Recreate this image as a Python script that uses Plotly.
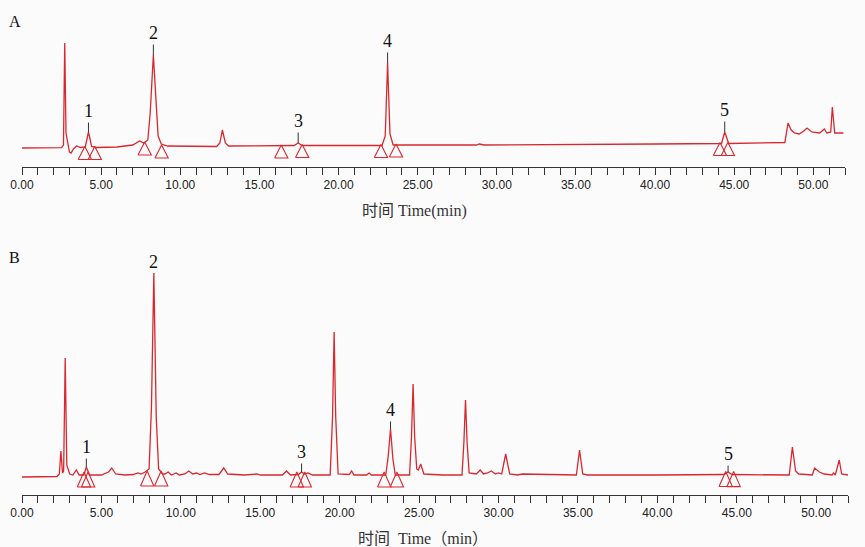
import numpy as np
import plotly.graph_objects as go

# ---------------- Chromatogram A (mixed standards) ----------------
time_a = [0.0, 2.5, 2.62, 2.7, 2.78, 2.9, 3.0, 3.1, 3.25, 3.45, 3.7, 4.0,
          4.2, 4.4, 4.7, 6.0, 7.0, 7.43, 7.7, 7.95, 8.1, 8.3, 8.45, 8.6,
          8.8, 9.2, 12.3, 12.5, 12.66, 12.85, 13.05, 16.5, 17.2, 17.45, 17.7,
          22.75, 22.95, 23.1, 23.25, 23.45, 28.7, 28.9, 29.2, 40.0, 44.2,
          44.4, 44.65, 48.2, 48.4, 48.6, 48.8, 49.1, 49.4, 49.6, 49.9,
          50.4, 50.7, 50.85, 51.1, 51.2, 51.35, 51.9]
signal_a = [0.0, 0.3, 3, 105, 15, 2, -4, -5, -1, 2, 0.5, 1,
            16, 1.5, 0.5, 1, 3, 7, 5, 8, 35, 93, 45, 12,
            4, 2, 1.5, 5, 18, 5, 2, 2, 2.5, 5, 2.5,
            2.5, 12, 85, 14, 3, 3, 4, 3, 4, 4.5,
            16, 4.5, 5.5, 25, 18, 15, 14, 17, 20, 16,
            15, 19, 15, 16, 41, 15, 15]

# ---------------- Chromatogram B (sample) ----------------
time_b = [0.0, 2.2, 2.35, 2.45, 2.55, 2.62, 2.72, 2.82, 3.0, 3.2, 3.42, 3.6,
          3.9, 4.05, 4.25, 5.0, 5.45, 5.65, 5.9, 6.5, 7.0, 7.3, 7.5, 7.75,
          8.0, 8.15, 8.3, 8.45, 8.6, 8.85, 9.0, 9.2, 9.4, 9.7, 9.9, 10.25,
          10.5, 10.75, 11.0, 11.2, 11.5, 11.8, 12.4, 12.7, 12.95, 14.0, 14.8, 15.0,
          16.4, 16.65, 16.9, 17.4, 17.6, 17.8, 18.0, 18.3, 19.4, 19.55, 19.65, 19.75,
          19.9, 20.6, 20.75, 20.9, 21.7, 21.85, 22.0, 22.9, 23.05, 23.2, 23.35, 23.5,
          24.4, 24.52, 24.62, 24.72, 24.85, 24.95, 25.1, 25.3, 26.5, 27.7, 27.82, 27.92,
          28.02, 28.15, 28.6, 28.85, 29.05, 29.3, 29.55, 29.8, 30.0, 30.2, 30.45, 30.7,
          31.2, 31.5, 34.9, 35.1, 35.3, 35.6, 40.0, 44.2, 44.45, 44.7, 48.3, 48.5,
          48.7, 48.9, 49.75, 49.9, 50.2, 50.5, 51.0, 51.08, 51.2, 51.45, 51.6, 52.0]
signal_b = [0.0, 0.5, 3, 26, 4, 6, 119, 12, 3, 2, 7, 2,
            2, 10, 2, 2, 5, 9, 3, 2, 2.5, 4, 3, 5,
            8, 70, 204, 60, 8, 3, 3, 5, 2, 4, 2, 3,
            6, 3, 4, 2.5, 4, 2.5, 2.5, 9, 3, 2, 3, 2,
            2, 6, 2, 2.5, 5, 3, 4, 2, 2, 60, 145, 60,
            3, 2.5, 6, 2, 2, 4, 2, 2, 20, 48, 18, 2,
            2, 40, 93, 40, 8, 7, 13, 3, 2, 2, 35, 77,
            35, 4, 3, 7, 3, 4, 6, 3, 4, 3, 23, 3,
            2, 3, 2, 27, 3, 2, 2, 2.5, 5, 2.5, 2, 30,
            6, 3, 2, 9, 5, 3, 2, 4, 2, 17, 3, 2]

# Identified peaks 1-5 (retention time, min)
peak_ids = ["1", "2", "3", "4", "5"]
peak_rt_a = [4.2, 8.3, 17.45, 23.1, 44.4]
peak_rt_b = [4.05, 8.3, 17.6, 23.2, 44.45]

# Integration start / end markers (min)
marks_a = [3.97, 4.6, 7.75, 8.82, 16.38, 17.7, 22.68, 23.63, 44.1, 44.6]
marks_b = [3.9, 4.16, 7.88, 8.76, 17.3, 17.8, 22.8, 23.6, 44.3, 44.8]

# x tick labels
tick_vals = [0, 5, 10, 15, 20, 25, 30, 35, 40, 45, 50]
tick_text = ["0.00", "5.00", "10.00", "15.00", "20.00", "25.00",
             "30.00", "35.00", "40.00", "45.00", "50.00"]

W, H = 865, 547
RED = "#d8282f"
BG = "#fbfbfb"
SERIF = "Times New Roman, Liberation Serif, Noto Sans CJK SC, serif"
SANS = "Liberation Sans Narrow, Arial Narrow, Liberation Sans, Arial, sans-serif"

# pixel lift of each peak number above its apex
label_lift_a = [21, 22, 22, 22, 22]
label_lift_b = [20, 11, 20, 19, 18]

fig = go.Figure()


def triangle_path(times, sig_t, sig_y, lift, height, half_w):
    """Open triangles sitting under the baseline at each integration mark."""
    t_arr = np.asarray(sig_t, float)
    y_arr = np.asarray(sig_y, float)
    xs, ys = [], []
    for t in times:
        grid = np.linspace(t - 0.5, t + 0.5, 101)
        base_level = float(np.interp(grid, t_arr, y_arr).min())
        apex = base_level + lift
        bottom = apex - height
        xs += [t - half_w, t, t + half_w, t - half_w, None]
        ys += [bottom, apex, bottom, bottom, None]
    return xs, ys


# Panel A traces
fig.add_trace(go.Scatter(x=time_a, y=signal_a, mode="lines",
                         line=dict(color=RED, width=1.3),
                         xaxis="x", yaxis="y", hoverinfo="skip"))
tx, ty = triangle_path(marks_a, time_a, signal_a, 1, 13, 0.42)
fig.add_trace(go.Scatter(x=tx, y=ty, mode="lines",
                         line=dict(color=RED, width=1.1),
                         xaxis="x", yaxis="y", hoverinfo="skip"))

# Panel B traces
fig.add_trace(go.Scatter(x=time_b, y=signal_b, mode="lines",
                         line=dict(color=RED, width=1.3),
                         xaxis="x2", yaxis="y2", hoverinfo="skip"))
tx, ty = triangle_path(marks_b, time_b, signal_b, 3, 15, 0.42)
fig.add_trace(go.Scatter(x=tx, y=ty, mode="lines",
                         line=dict(color=RED, width=1.1),
                         xaxis="x2", yaxis="y2", hoverinfo="skip"))

annotations = []
for ids, rts, lifts, ts, ys, xr, yr in [
    (peak_ids, peak_rt_a, label_lift_a, time_a, signal_a, "x", "y"),
    (peak_ids, peak_rt_b, label_lift_b, time_b, signal_b, "x2", "y2"),
]:
    for pid, rt, lift in zip(ids, rts, lifts):
        apex = float(np.interp(rt, ts, ys))
        annotations.append(dict(
            x=rt, y=apex, xref=xr, yref=yr, text=pid,
            showarrow=True, arrowhead=0, arrowwidth=1, arrowcolor="#333333",
            ax=0, ay=-lift, font=dict(family=SERIF, size=18, color="#111111"),
        ))


def paper_text(px, py, text, size, color):
    return dict(x=px / W, y=1 - py / H, xref="paper", yref="paper",
                xanchor="center", yanchor="middle", text=text,
                showarrow=False, font=dict(family=SERIF, size=size, color=color))


# Panel letters and axis titles
annotations += [
    paper_text(15, 22, "A", 16, "#111111"),
    paper_text(15, 257, "B", 16, "#111111"),
    paper_text(414, 211, "时间 Time(min)", 16, "#333333"),
    paper_text(423, 538, "时间  Time（min）", 16, "#333333"),
]


def xaxis_style(dom):
    return dict(
        domain=dom, range=[0, 52], showgrid=False, zeroline=False,
        automargin=False,
        showline=True, linecolor="#333333", linewidth=1,
        ticks="outside", ticklen=7, tickwidth=1, tickcolor="#333333",
        tickvals=tick_vals, ticktext=tick_text,
        tickfont=dict(family=SANS, size=12, color="#222222"),
        minor=dict(dtick=1, tick0=0, ticks="outside", ticklen=7,
                   tickwidth=1, tickcolor="#333333", showgrid=False),
        fixedrange=True,
    )


fig.update_layout(
    template="none",
    width=W, height=H,
    margin=dict(l=0, r=0, t=0, b=0, autoexpand=False),
    paper_bgcolor=BG, plot_bgcolor=BG,
    showlegend=False,
    xaxis=dict(**xaxis_style([22 / W, 845 / W]), anchor="y"),
    yaxis=dict(domain=[1 - 167 / H, 1 - 20 / H], range=[-19, 128],
               visible=False, fixedrange=True, anchor="x", automargin=False),
    xaxis2=dict(**xaxis_style([22 / W, 848 / W]), anchor="y2"),
    yaxis2=dict(domain=[1 - 495 / H, 1 - 250 / H], range=[-18, 227],
                visible=False, fixedrange=True, anchor="x2", automargin=False),
    annotations=annotations,
)

fig.write_html("out.html")
